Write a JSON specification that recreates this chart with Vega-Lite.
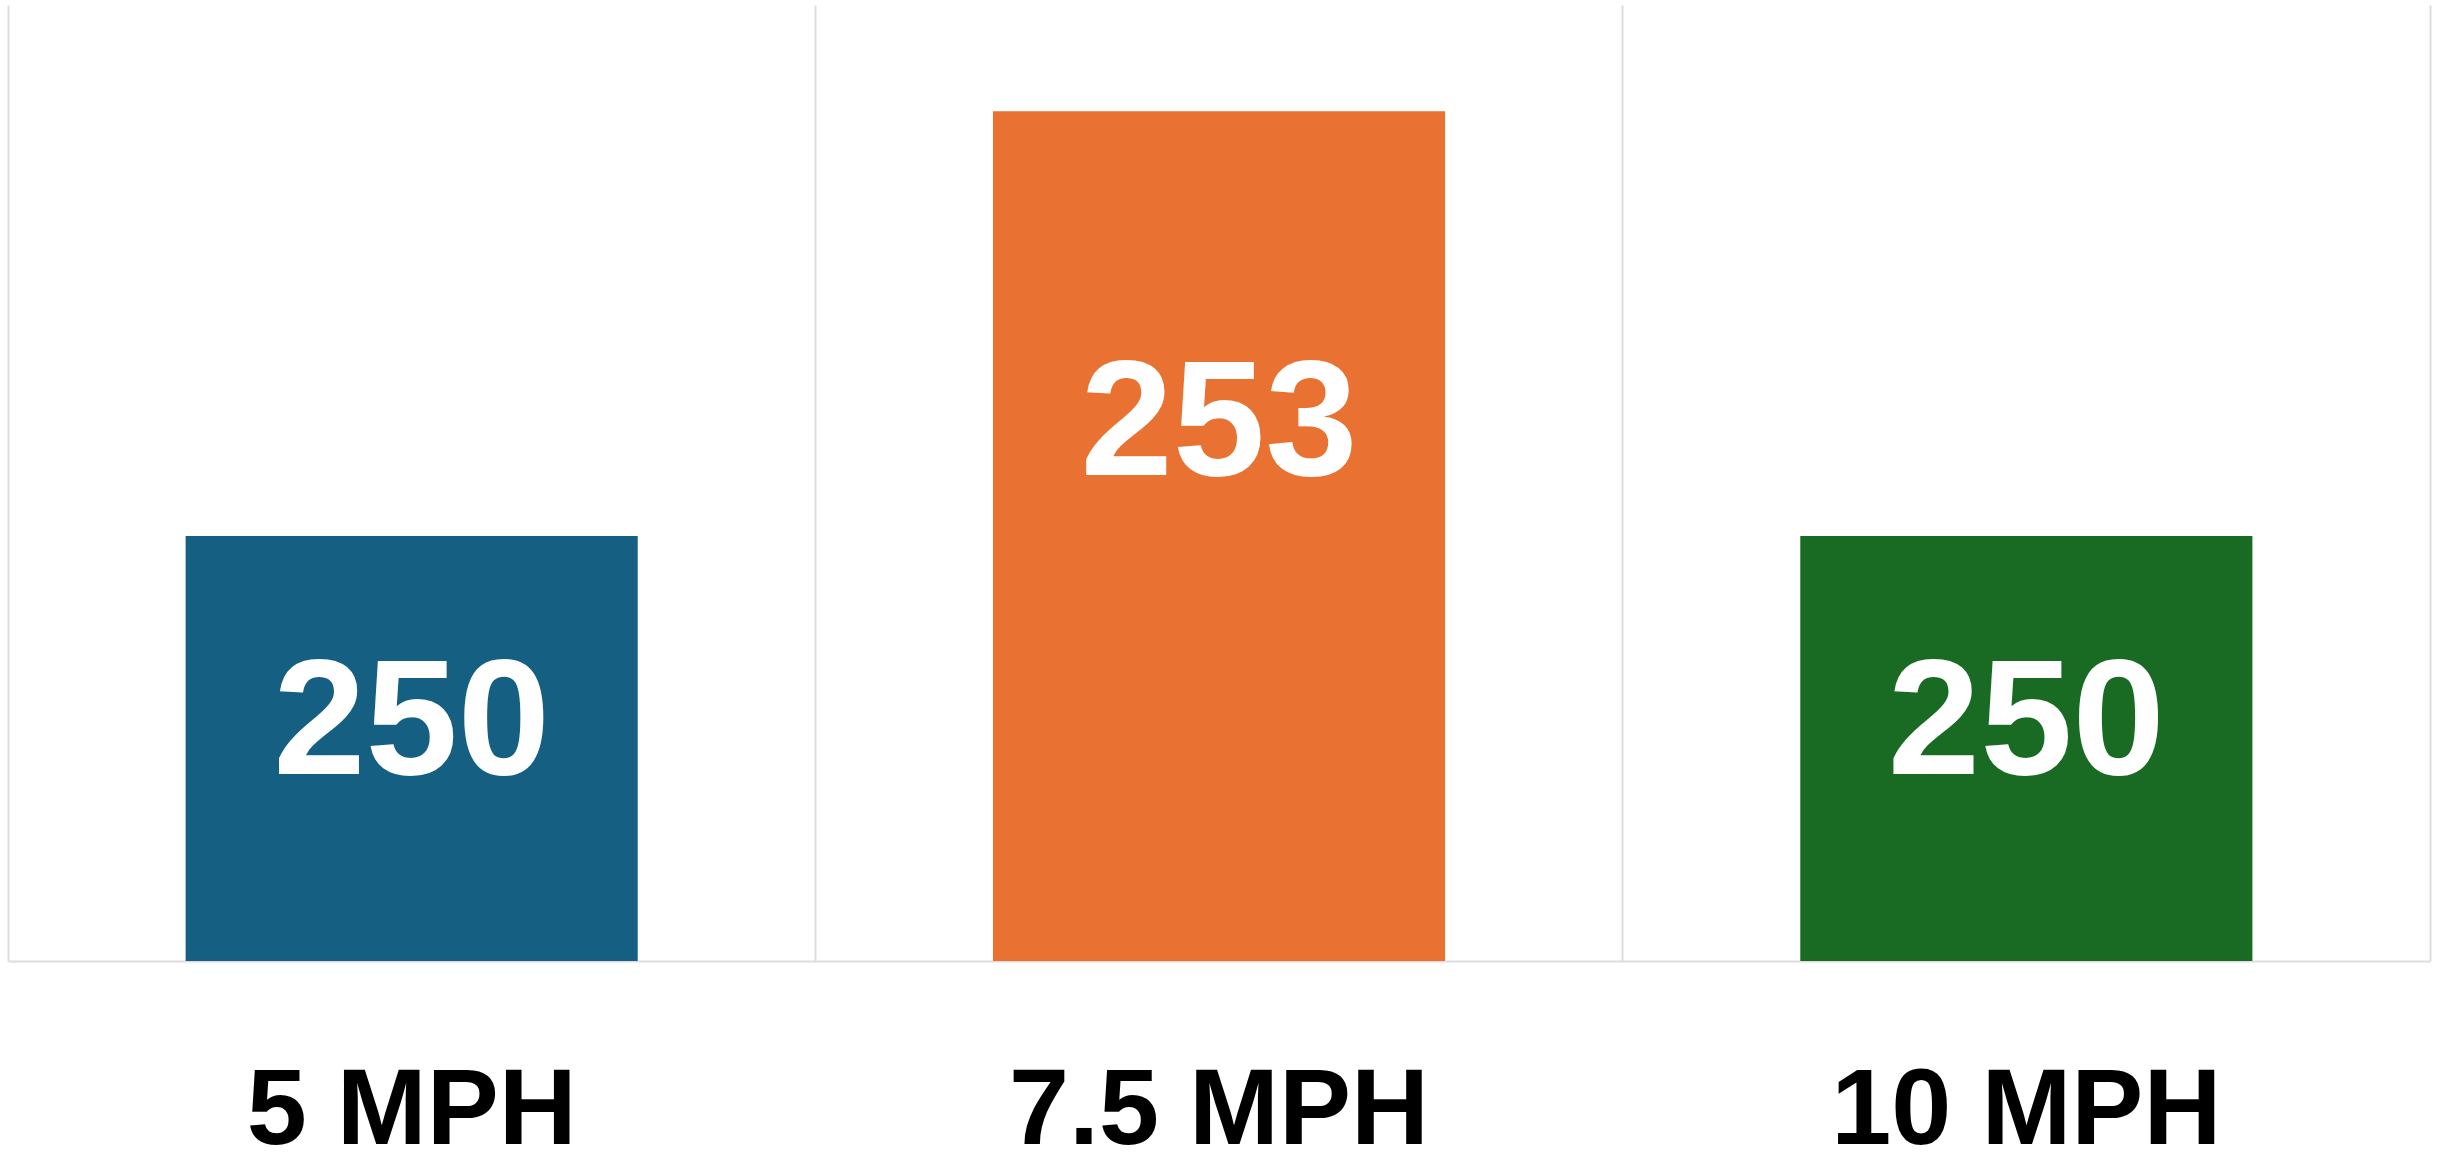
{
  "$schema": "https://vega.github.io/schema/vega-lite/v6.json",
  "autosize": {"type": "none"},
  "width": 2422,
  "height": 956,
  "padding": {"left": 8, "top": 5, "right": 23, "bottom": 192},
  "background": "white",
  "config": {"view": {"stroke": null}},
  "data": {
    "values": [
      {"speed": "5 MPH", "value": 250},
      {"speed": "7.5 MPH", "value": 253},
      {"speed": "10 MPH", "value": 250}
    ]
  },
  "transform": [
    {"calculate": "0.705 * datum.value + 72.42", "as": "labelY"}
  ],
  "encoding": {
    "x": {
      "field": "speed",
      "type": "nominal",
      "sort": null,
      "scale": {"paddingInner": 0, "paddingOuter": 0},
      "axis": {
        "title": null,
        "labelAngle": 0,
        "ticks": false,
        "tickSize": 0,
        "labelPadding": 97,
        "labelLimit": 0,
        "labelFont": "Liberation Sans",
        "labelFontWeight": "bold",
        "labelFontSize": 108,
        "labelColor": "#000000",
        "domainColor": "#dddddd",
        "domainWidth": 2,
        "grid": true,
        "gridColor": "#dddddd",
        "gridWidth": 2,
        "bandPosition": 0
      }
    }
  },
  "layer": [
    {
      "mark": {"type": "bar", "width": {"band": 0.56}, "clip": true},
      "encoding": {
        "y": {
          "field": "value",
          "type": "quantitative",
          "scale": {"domain": [247, 253.75], "zero": false, "nice": false},
          "axis": {
            "orient": "right",
            "title": null,
            "labels": false,
            "ticks": false,
            "grid": false,
            "domain": true,
            "domainColor": "#dddddd",
            "domainWidth": 2
          }
        },
        "y2": {"datum": 247},
        "color": {
          "field": "speed",
          "type": "nominal",
          "sort": null,
          "scale": {"domain": ["5 MPH", "7.5 MPH", "10 MPH"], "range": ["#156082", "#E97132", "#196B24"]},
          "legend": null
        }
      }
    },
    {
      "mark": {
        "type": "text",
        "font": "Liberation Sans",
        "fontWeight": "bold",
        "fontSize": 166,
        "color": "white",
        "baseline": "middle",
        "align": "center"
      },
      "encoding": {
        "y": {"field": "labelY", "type": "quantitative"},
        "text": {"field": "value", "type": "quantitative"}
      }
    }
  ]
}
